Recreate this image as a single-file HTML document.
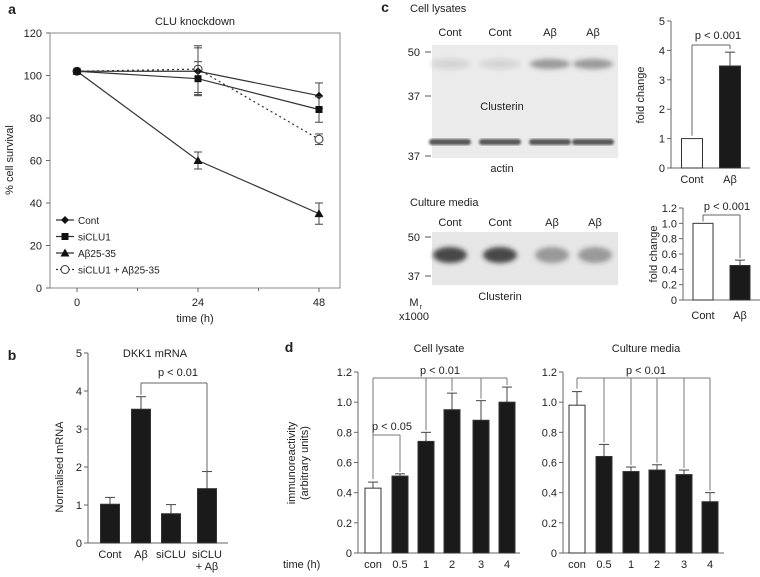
<!DOCTYPE html>
<html><head><meta charset="utf-8"><style>
body{margin:0;background:#fff;}
svg{display:block;font-family:"Liberation Sans",sans-serif;}
text{fill:#222;}
</style></head><body>
<svg id="fig" width="760" height="577" viewBox="0 0 760 577">
<defs><filter id="bl" x="-20%" y="-50%" width="140%" height="200%"><feGaussianBlur stdDeviation="2.5"/></filter>
<filter id="bl2"><feGaussianBlur stdDeviation="1.2"/></filter></defs>
<g id="pa"></g>
<g id="pb"></g>
<g id="pc"></g>
<g id="pd"></g>
</svg>
<script>
// ---- Panel a data ----
const aTimes=[0,24,48];
const aCont=[102,102,90.5], aContErr=[0,11,6];
const aSi=[102,98.5,84], aSiErr=[0,8,6];
const aAb=[102,60,35], aAbErr=[0,4,5];
const aSiAb=[102,103,70], aSiAbErr=[0,11,2.5];
const aYTicks=[0,20,40,60,80,100,120];
// ---- Panel b ----
const bCats=["Cont","Aβ","siCLU","siCLU"];
const bVals=[1.02,3.52,0.77,1.43], bErr=[0.18,0.33,0.24,0.45];
const bYTicks=[0,1,2,3,4,5];
// ---- Panel c ----
const cCats=["Cont","Aβ"];
const cTopVals=[1,3.47], cTopErr=[0,0.47], cTopTicks=[0,1,2,3,4,5];
const cBotVals=[1.0,0.45], cBotErr=[0,0.07], cBotTicks=["0","0.2","0.4","0.6","0.8","1.0","1.2"];
// ---- Panel d ----
const dCats=["con","0.5","1","2","3","4"];
const dLysVals=[0.43,0.51,0.74,0.95,0.88,1.0], dLysErr=[0.04,0.015,0.06,0.11,0.13,0.1];
const dMedVals=[0.98,0.64,0.54,0.55,0.52,0.34], dMedErr=[0.09,0.08,0.03,0.035,0.03,0.06];
const dTicks=["0","0.2","0.4","0.6","0.8","1.0","1.2"];

const NS="http://www.w3.org/2000/svg";
function el(p,tag,at,txt){const e=document.createElementNS(NS,tag);for(const k in at)e.setAttribute(k,at[k]);if(txt!==undefined)e.textContent=txt;p.appendChild(e);return e;}
function T(p,x,y,s,o){o=o||{};const e=el(p,'text',Object.assign({x:x,y:y,'font-size':o.fs||11,'text-anchor':o.a||'middle'},o.extra||{}),s);
if(o.b)e.setAttribute('font-weight','bold');

return e;}
function L(p,x1,y1,x2,y2,st,w,d){const e=el(p,'line',{x1:x1,y1:y1,x2:x2,y2:y2,stroke:st||'#555','stroke-width':w||1});if(d)e.setAttribute('stroke-dasharray',d);return e;}

// ===== Panel a =====
(function(){
const g=document.getElementById('pa');
const X0=50,X1=340,Y0=288,Y1=33;
const sx=t=>77+(t/48)*(319-77), sy=v=>Y0-(v/120)*(Y0-Y1);
T(g,12,14,"a",{fs:14,b:1,n:'panel-label-a'});
T(g,195,25,"CLU knockdown",{fs:11,n:'chart-title'});
el(g,'rect',{x:X0,y:Y1,width:X1-X0,height:Y0-Y1,fill:'none',stroke:'#888'});
aYTicks.forEach(v=>{L(g,X0-4,sy(v),X0,sy(v),'#666');T(g,X0-8,sy(v)+4,String(v),{a:'end',n:'y-tick-label'});});
aTimes.forEach(t=>{L(g,sx(t),Y0,sx(t),Y0+4,'#666');T(g,sx(t),Y0+18,String(t),{n:'x-tick-label'});});
[12,36].forEach(t=>L(g,sx(t),Y0,sx(t),Y0+3,'#666'));
T(g,195,322,"time (h)",{n:'x-axis-title'});
T(g,0,0,"% cell survival",{n:'y-axis-title',extra:{transform:'translate(13,160) rotate(-90)'}});
function series(vals,errs,name,marker,dash){
 const s=el(g,'g',{});
 const pl=el(s,'polyline',{points:vals.map((v,i)=>sx(aTimes[i])+','+sy(v)).join(' '),fill:'none',stroke:'#333','stroke-width':1.2});
 if(dash)pl.setAttribute('stroke-dasharray','2,3');
 vals.forEach((v,i)=>{const x=sx(aTimes[i]);if(errs[i]){L(s,x,sy(v-errs[i]),x,sy(v+errs[i]),'#444');L(s,x-4,sy(v-errs[i]),x+4,sy(v-errs[i]),'#444');L(s,x-4,sy(v+errs[i]),x+4,sy(v+errs[i]),'#444');}
 marker(s,x,sy(v));});
}
const dia=(p,x,y)=>el(p,'polygon',{points:`${x},${y-4} ${x+4},${y} ${x},${y+4} ${x-4},${y}`,fill:'#111'});
const sq=(p,x,y)=>el(p,'rect',{x:x-3.5,y:y-3.5,width:7,height:7,fill:'#111'});
const tri=(p,x,y)=>el(p,'polygon',{points:`${x},${y-4.5} ${x+4.5},${y+3.5} ${x-4.5},${y+3.5}`,fill:'#111'});
const circ=(p,x,y)=>el(p,'circle',{cx:x,cy:y,r:4,fill:'#fff',stroke:'#333'});
series(aSiAb,aSiAbErr,'series-siclu1-abeta',circ,1);
series(aCont,aContErr,'series-cont',dia);
series(aSi,aSiErr,'series-siclu1',sq);
series(aAb,aAbErr,'series-abeta',tri);
const leg=[["Cont",dia,0],["siCLU1",sq,0],["Aβ25-35",tri,0],["siCLU1 + Aβ25-35",circ,1]];
leg.forEach((l,i)=>{const y=220+i*16.5;const lg=el(g,'g',{});
 const ln=L(lg,56,y,74,y,'#333',1.2);if(l[2])ln.setAttribute('stroke-dasharray','2,2');l[1](lg,65,y);T(lg,78,y+4,l[0],{a:'start',fs:10,n:'legend-label'});});
})();

// ===== generic bar chart =====
function bars(g,o){
 const sy=v=>o.y0-(v/o.vmax)*(o.y0-o.y1);
 L(g,o.ax,o.y0,o.ax,o.y1,'#666');
 L(g,o.ax,o.y0,o.xEnd,o.y0,'#666');
 o.ticks.forEach((t,i)=>{const v=o.tickVals[i];L(g,o.ax-4,sy(v),o.ax,sy(v),'#666');T(g,o.ax-6,sy(v)+4,String(t),{a:'end',fs:o.fs||11,n:'y-tick-label'});});
 o.vals.forEach((v,i)=>{const cx=o.xs[i];const e=o.errs[i];
  if(e){L(g,cx,sy(v),cx,sy(v+e),'#444');L(g,cx-5,sy(v+e),cx+5,sy(v+e),'#444');}
  const r=el(g,'rect',{x:cx-o.w/2,y:sy(v),width:o.w,height:o.y0-sy(v),fill:(o.white&&o.white[i])?'#fff':'#1a1a1a',stroke:'#333'});
  
  if(o.catY)T(g,cx,o.catY,o.cats[i],{fs:o.fs||11,n:'x-tick-label'});
 });
 return sy;
}

// ===== Panel b =====
(function(){
const g=document.getElementById('pb');
T(g,12,360,"b",{fs:14,b:1,n:'panel-label-b'});
T(g,155,357,"DKK1 mRNA",{n:'chart-title'});
const xs=[110,141,171,207];
const sy=bars(g,{ax:88,y0:543,y1:353,vmax:5,xEnd:228,ticks:bYTicks,tickVals:bYTicks,vals:bVals,errs:bErr,xs:xs,w:19,cats:bCats,catY:558});
T(g,207,570,"+ Aβ",{n:'x-tick-label'});
L(g,141,383,207,383,'#666');L(g,141,383,141,sy(3.85)-2,'#666');L(g,207,383,207,sy(1.88),'#666');
T(g,178,376,"p < 0.01",{n:'significance-label'});
T(g,0,0,"Normalised mRNA",{n:'y-axis-title',extra:{transform:'translate(63,467) rotate(-90)'}});
})();

// ===== Panel c =====
(function(){
const g=document.getElementById('pc');
T(g,385,12,"c",{fs:14,b:1,n:'panel-label-c'});
T(g,410,12,"Cell lysates",{a:'start',n:'blot-title-lysates'});
const b1=el(g,'g',{});
el(b1,'rect',{x:432,y:45,width:186,height:113,fill:'#ebebeb'});
const lanes=[450,500,550,593];
const cInt=[0.12,0.12,0.45,0.45];
lanes.forEach((x,i)=>{el(b1,'ellipse',{cx:x,cy:64,rx:20,ry:5,fill:'#333','fill-opacity':cInt[i],filter:'url(#bl)'});
 el(b1,'rect',{x:x-21,y:139,width:42,height:6,rx:3,fill:'#555',filter:'url(#bl2)'});});
["Cont","Cont","Aβ","Aβ"].forEach((s,i)=>T(g,lanes[i],36,s,{n:'lane-label'}));
[["50",52],["37",96],["37",156]].forEach(m=>{T(g,420,m[1]+4,m[0],{a:'end',n:'mw-marker'});L(g,425,m[1],431,m[1],'#555');});
T(g,502,110,"Clusterin",{n:'blot-label'});
T(g,502,172,"actin",{n:'blot-label'});
T(g,410,206,"Culture media",{a:'start',n:'blot-title-media'});
const b2=el(g,'g',{});
el(b2,'rect',{x:432,y:232,width:186,height:53,fill:'#e6e6e6'});
const l2=[450,500,552,595];const mInt=[0.8,0.8,0.4,0.4];
l2.forEach((x,i)=>el(b2,'ellipse',{cx:x,cy:255,rx:17,ry:8,fill:'#222','fill-opacity':mInt[i],filter:'url(#bl)'}));
["Cont","Cont","Aβ","Aβ"].forEach((s,i)=>T(g,l2[i],226,s,{n:'lane-label'}));
[["50",237],["37",276]].forEach(m=>{T(g,420,m[1]+4,m[0],{a:'end',n:'mw-marker'});L(g,425,m[1],431,m[1],'#555');});
T(g,500,300,"Clusterin",{n:'blot-label'});
T(g,414,306,"M",{n:'mw-unit'});T(g,421,309,"r",{fs:7,n:'mw-unit-sub'});
T(g,414,320,"x1000",{n:'mw-unit-scale'});
const g1=el(g,'g',{});
const sy1=bars(g1,{ax:671,y0:168,y1:21,vmax:5,xEnd:750,ticks:cTopTicks,tickVals:cTopTicks,vals:cTopVals,errs:cTopErr,xs:[692,730],w:21,cats:cCats,catY:183,white:[1,0]});
L(g1,692,45,730,45,'#666');L(g1,692,45,692,sy1(1)-3,'#666');L(g1,730,45,730,sy1(3.94)-3,'#666');
T(g1,718,39,"p < 0.001",{n:'significance-label'});
T(g1,0,0,"fold change",{n:'y-axis-title',extra:{transform:'translate(644,95) rotate(-90)'}});
const g2=el(g,'g',{});
const sy2=bars(g2,{ax:683,y0:300,y1:208,vmax:1.2,xEnd:760,ticks:cBotTicks,tickVals:cBotTicks.map(Number),vals:cBotVals,errs:cBotErr,xs:[703,740],w:20,cats:cCats,catY:319,white:[1,0]});
L(g2,703,215,740,215,'#666');L(g2,703,215,703,sy2(1)-2,'#666');L(g2,740,215,740,sy2(0.52)-2,'#666');
T(g2,727,210,"p < 0.001",{n:'significance-label'});
T(g2,0,0,"fold change",{n:'y-axis-title',extra:{transform:'translate(657,254) rotate(-90)'}});
})();

// ===== Panel d =====
(function(){
const g=document.getElementById('pd');
T(g,289,352,"d",{fs:14,b:1,n:'panel-label-d'});
T(g,0,0,"immunoreactivity",{n:'y-axis-title',extra:{transform:'translate(295,463) rotate(-90)'}});
T(g,0,0,"(arbitrary units)",{n:'y-axis-title',extra:{transform:'translate(308,463) rotate(-90)'}});
T(g,283,568,"time (h)",{a:'start',n:'x-axis-title'});
const gl=el(g,'g',{});
T(gl,439,352,"Cell lysate",{n:'chart-title'});
const xsL=[373,400,426,452,481,507];
const syL=bars(gl,{ax:358,y0:553,y1:372,vmax:1.2,xEnd:520,ticks:dTicks,tickVals:dTicks.map(Number),vals:dLysVals,errs:dLysErr,xs:xsL,w:16,cats:dCats,catY:568,white:[1,0,0,0,0,0]});
const top=378;L(gl,373,top,507,top,'#777');
L(gl,373,top,373,syL(0.47)-3,'#777');
[2,3,4,5].forEach(i=>L(gl,xsL[i],top,xsL[i],syL(dLysVals[i]+dLysErr[i])-2,'#777'));
T(gl,440,374,"p < 0.01",{n:'significance-label'});
L(gl,373,435,400,435,'#777');L(gl,400,435,400,syL(0.525)-2,'#777');
T(gl,392,430,"p < 0.05",{n:'significance-label'});
const gm=el(g,'g',{});
T(gm,646,352,"Culture media",{n:'chart-title'});
const xsM=[577,604,631,657,684,710];
const syM=bars(gm,{ax:563,y0:553,y1:372,vmax:1.2,xEnd:724,ticks:dTicks,tickVals:dTicks.map(Number),vals:dMedVals,errs:dMedErr,xs:xsM,w:16,cats:dCats,catY:568,white:[1,0,0,0,0,0]});
L(gm,577,top,710,top,'#777');L(gm,577,top,577,syM(1.07)-3,'#777');
[1,2,3,4,5].forEach(i=>L(gm,xsM[i],top,xsM[i],syM(dMedVals[i]+dMedErr[i])-2,'#777'));
T(gm,646,374,"p < 0.01",{n:'significance-label'});
})();
</script>
</body></html>
